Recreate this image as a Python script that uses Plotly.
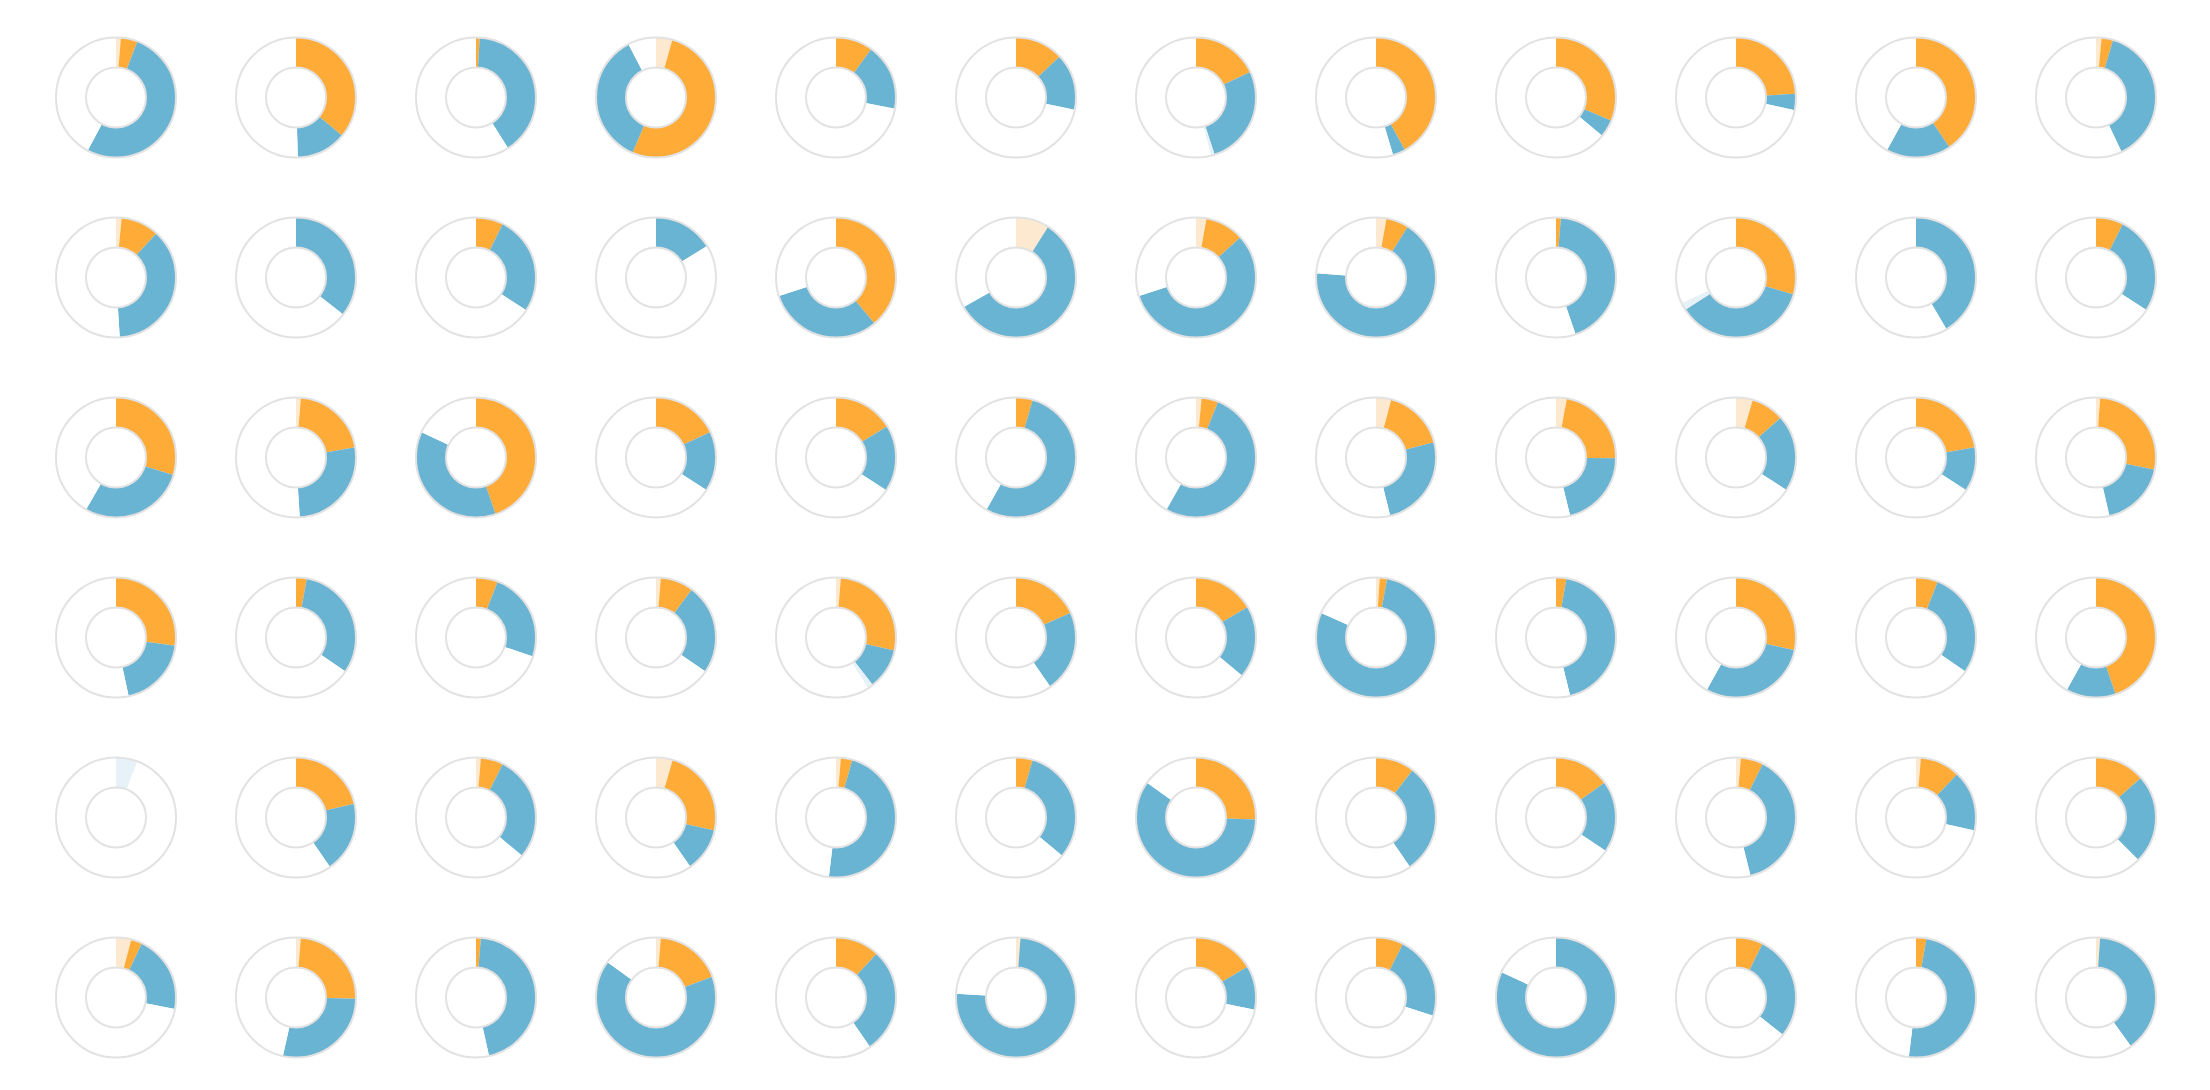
import plotly.graph_objects as go

# Segment shares per donut (row-major, 6 rows x 12 columns), clockwise from 12 o'clock
pale_orange = [
    0.013, 0, 0, 0.044, 0, 0, 0, 0, 0, 0, 0, 0.015,
    0.015, 0, 0, 0, 0, 0.09, 0.028, 0.028, 0, 0, 0, 0,
    0, 0.013, 0, 0, 0, 0, 0.015, 0.041, 0.029, 0.045, 0, 0.011,
    0, 0, 0, 0.013, 0.013, 0, 0, 0.01, 0, 0, 0, 0,
    0, 0, 0.013, 0.045, 0.013, 0, 0, 0, 0, 0.013, 0.013, 0,
    0.041, 0.013, 0, 0.013, 0, 0.012, 0, 0, 0, 0, 0, 0.011,
]
orange = [
    0.045, 0.36, 0.01, 0.52, 0.10, 0.13, 0.18, 0.42, 0.313, 0.24, 0.406, 0.031,
    0.103, 0, 0.074, 0, 0.389, 0, 0.105, 0.061, 0.013, 0.296, 0, 0.074,
    0.297, 0.21, 0.447, 0.18, 0.163, 0.045, 0.045, 0.168, 0.223, 0.089, 0.223, 0.272,
    0.272, 0.029, 0.059, 0.089, 0.272, 0.182, 0.165, 0.02, 0.028, 0.284, 0.059, 0.447,
    0, 0.213, 0.061, 0.24, 0.031, 0.045, 0.255, 0.105, 0.151, 0.061, 0.108, 0.135,
    0.03, 0.24, 0.013, 0.181, 0.119, 0, 0.164, 0.074, 0, 0.073, 0.028, 0,
]
blue = [
    0.52, 0.135, 0.40, 0.36, 0.18, 0.153, 0.27, 0.034, 0.047, 0.044, 0.174, 0.384,
    0.372, 0.356, 0.268, 0.162, 0.311, 0.578, 0.567, 0.672, 0.434, 0.364, 0.415, 0.267,
    0.286, 0.267, 0.372, 0.161, 0.179, 0.537, 0.522, 0.253, 0.21, 0.207, 0.119, 0.181,
    0.194, 0.317, 0.242, 0.244, 0.11, 0.221, 0.195, 0.787, 0.434, 0.297, 0.287, 0.134,
    0, 0.191, 0.286, 0.118, 0.475, 0.315, 0.593, 0.299, 0.193, 0.387, 0.164, 0.24,
    0.21, 0.282, 0.452, 0.656, 0.285, 0.748, 0.119, 0.225, 0.819, 0.284, 0.491, 0.39,
]
pale_blue = [
    0, 0, 0, 0, 0, 0, 0.01, 0, 0, 0, 0, 0,
    0, 0, 0, 0, 0, 0, 0, 0, 0, 0.02, 0, 0,
    0, 0, 0, 0, 0, 0, 0, 0, 0, 0, 0, 0,
    0, 0, 0, 0, 0.015, 0, 0, 0, 0, 0, 0, 0,
    0.058, 0, 0, 0, 0, 0, 0, 0, 0, 0, 0, 0,
    0, 0, 0, 0, 0, 0, 0, 0, 0, 0, 0, 0,
]
segment_names = ["pale orange", "orange", "blue", "pale blue", "rest"]
segment_colors = ["#fde9cf", "#feab38", "#69b3d3", "#e7f1f8", "#ffffff"]

N_ROWS, N_COLS = 6, 12
W, H = 2210, 1090
CELL = 180
X0, Y0 = 26, 7.5
R = 60

fig = go.Figure()
for idx in range(N_ROWS * N_COLS):
    r, c = divmod(idx, N_COLS)
    cx = X0 + CELL * c + CELL / 2
    cy = Y0 + CELL * r + CELL / 2
    dom = dict(x=[(cx - R) / W, (cx + R) / W], y=[1 - (cy + R) / H, 1 - (cy - R) / H])
    vals = [pale_orange[idx], orange[idx], blue[idx], pale_blue[idx]]
    vals.append(max(0.0, 1 - sum(vals)))
    fig.add_trace(go.Pie(
        values=vals, labels=segment_names, domain=dom, hole=0.5, sort=False,
        direction="clockwise", rotation=0, textinfo="none",
        marker=dict(colors=segment_colors, line=dict(width=0)),
        showlegend=False, hoverinfo="label+percent",
    ))
    fig.add_trace(go.Pie(
        values=[1], labels=["outline"], domain=dom, hole=0.5, sort=False,
        textinfo="none", marker=dict(colors=["rgba(0,0,0,0)"], line=dict(color="#e2e2e2", width=2)),
        showlegend=False, hoverinfo="skip",
    ))

fig.update_layout(
    width=W, height=H, margin=dict(l=0, r=0, t=0, b=0),
    paper_bgcolor="white", plot_bgcolor="white",
)
fig.write_html("out.html")
